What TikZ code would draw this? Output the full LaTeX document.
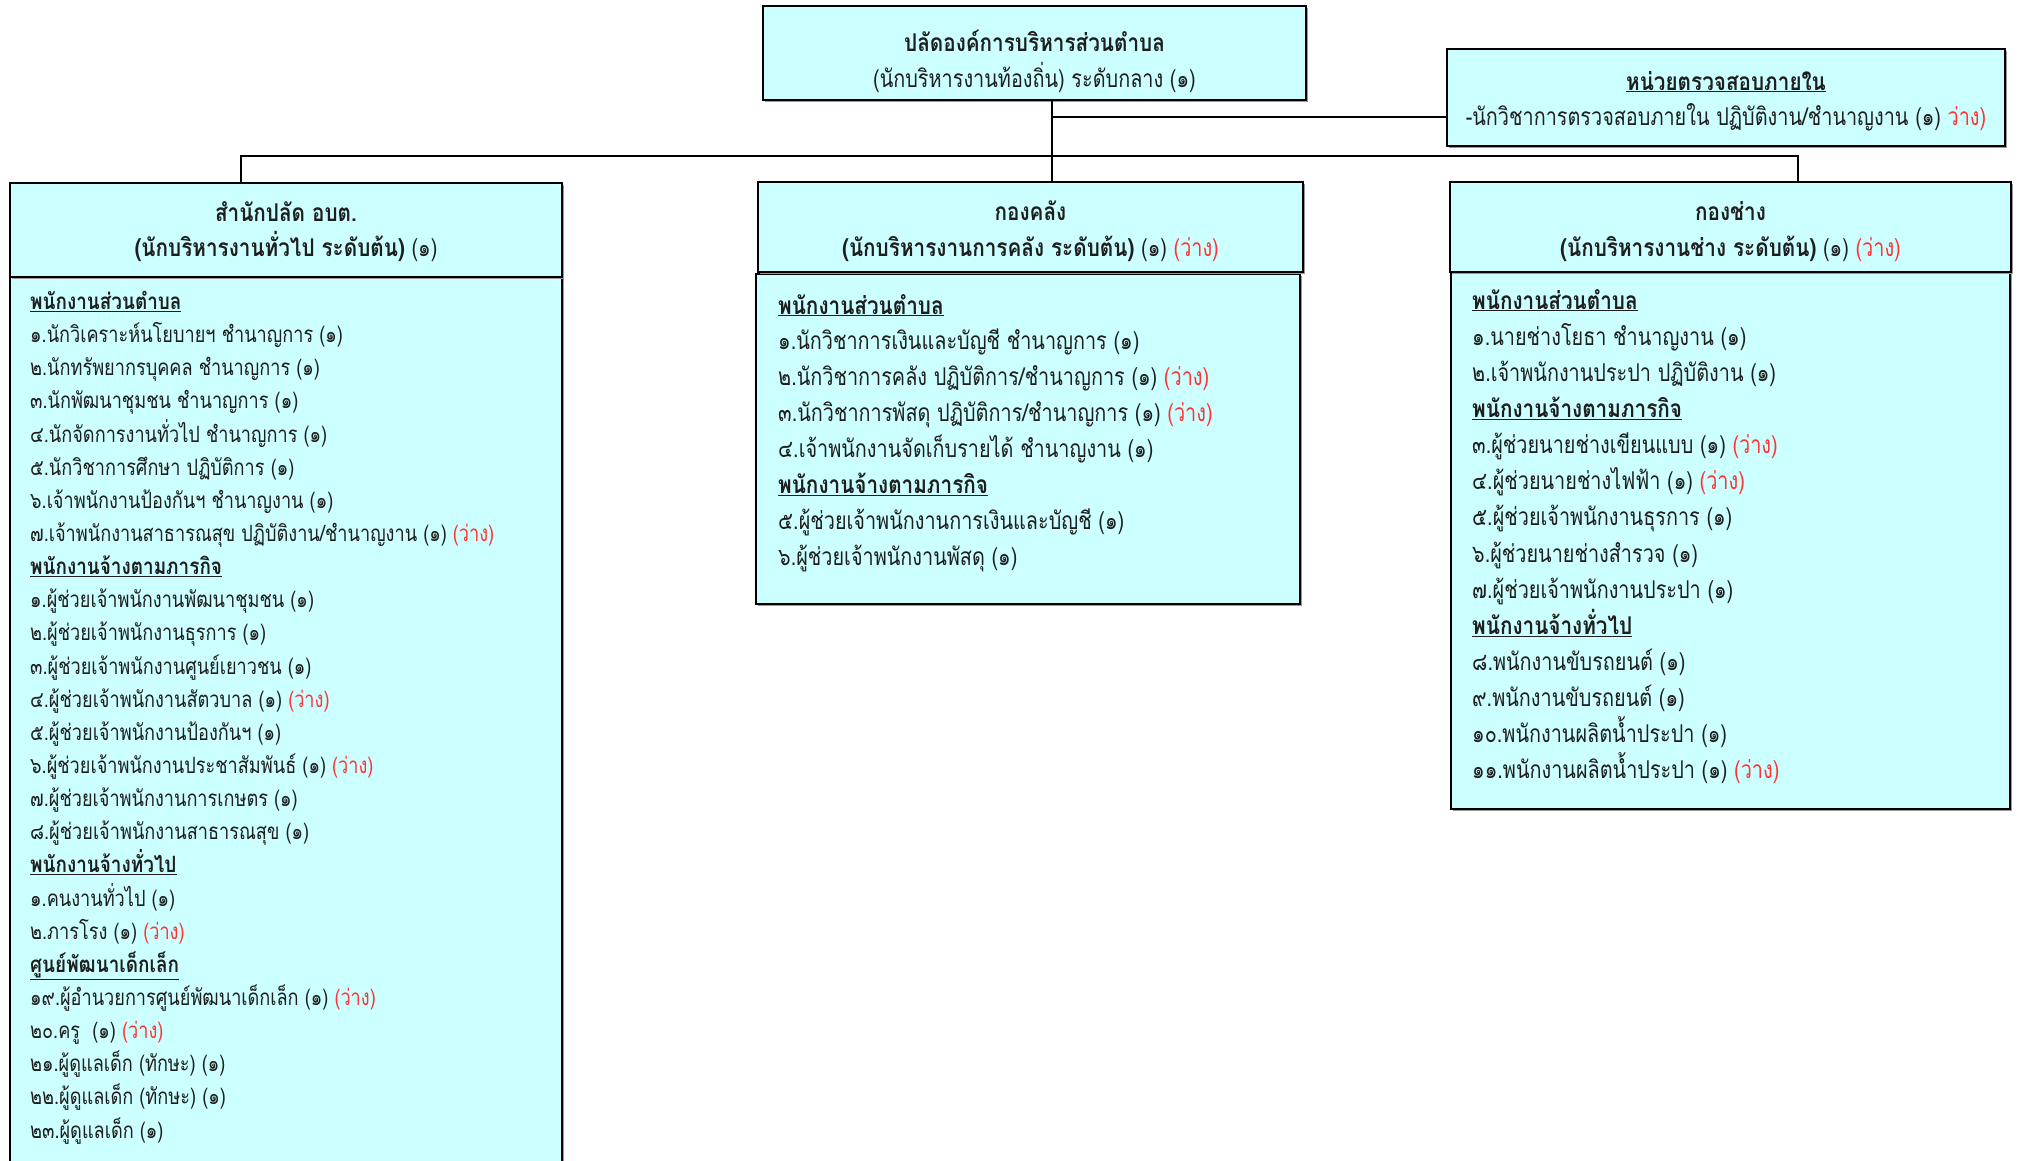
\documentclass[tikz,border=0pt]{standalone}
\usepackage{fontspec}
\newfontfamily\thaifont[Script=Thai, FakeStretch=0.81, BoldFeatures={FakeStretch=0.845}]{Loma}
\usetikzlibrary{shadows}
\definecolor{boxfill}{HTML}{CCFFFF}
\definecolor{txt}{HTML}{1E1E1E}
\definecolor{redt}{HTML}{FF3333}
\newcommand{\vac}{\textcolor{redt}{(ว่าง)}}
\newcommand{\hd}[1]{\textbf{\underline{#1}}}
\begin{document}
\begin{tikzpicture}[x=1pt,y=-1pt,
  font=\thaifont\fontsize{24.5}{28}\selectfont,
  box/.style={draw=black, line width=2.4pt, fill=boxfill, inner sep=0pt,
    drop shadow={shadow xshift=2pt, shadow yshift=-2pt, fill=black!40, opacity=1}},
  conn/.style={line width=2.2pt, black},
  item/.style={anchor=base west, inner sep=0pt, text=txt},
  smallitem/.style={item, font=\thaifont\fontsize{22.4}{26}\selectfont},
  ttl/.style={anchor=base, inner sep=0pt, text=txt}]
\useasboundingbox (0,0) rectangle (2018,1160);
\clip (0,0) rectangle (2018,1160);
% boxes
\node[box, minimum width=543, minimum height=94] (top) at (1034.5,53) {};
\node[box, minimum width=558, minimum height=97] (audit) at (1726,97.5) {};
\node[box, minimum width=552, minimum height=903] (leftB) at (286,728.5) {};
\node[box, minimum width=552, minimum height=94] (leftT) at (286,230) {};
\node[box, minimum width=544, minimum height=330] (midB) at (1028,439) {};
\node[box, minimum width=545, minimum height=90] (midT) at (1030.5,227) {};
\node[box, minimum width=559, minimum height=537] (rightB) at (1730.5,540.5) {};
\node[box, minimum width=561, minimum height=90] (rightT) at (1730.5,227) {};
% connectors
\coordinate (j) at (1052,117);
\coordinate (busL) at (241,156);
\coordinate (busR) at (1798,156);
\draw[conn] (top.south -| j) -- (j |- midT.north);
\draw[conn] (j) -- (j -| audit.west);
\draw[conn] (busL |- leftT.north) -- (busL) -- (busR) -- (busR |- rightT.north);
% titles
\node[ttl] (topA) at (1034.5,51) {\textbf{ปลัดองค์การบริหารส่วนตำบล}};
\node[ttl] (topB) at (1034.5,87) {(นักบริหารงานท้องถิ่น) ระดับกลาง (๑)};
\node[ttl] (audA) at (1726,90) {\hd{หน่วยตรวจสอบภายใน}};
\node[ttl] (audB) at (1726,125) {-นักวิชาการตรวจสอบภายใน ปฏิบัติงาน/ชำนาญงาน (๑) \textcolor{redt}{ว่าง)}};
\node[ttl] (lA) at (286,221) {\textbf{สำนักปลัด อบต.}};
\node[ttl] (lB) at (286,256) {\textbf{(นักบริหารงานทั่วไป ระดับต้น)} (๑)};
\node[ttl] (mA) at (1030.5,220) {\textbf{กองคลัง}};
\node[ttl] (mB) at (1030.5,256) {\textbf{(นักบริหารงานการคลัง ระดับต้น)} (๑) \vac};
\node[ttl] (rA) at (1730.5,220) {\textbf{กองช่าง}};
\node[ttl] (rB) at (1730.5,256) {\textbf{(นักบริหารงานช่าง ระดับต้น)} (๑) \vac};
% left list
\foreach \t [count=\i from 0] in {
 {\hd{พนักงานส่วนตำบล}},
 {๑.นักวิเคราะห์นโยบายฯ ชำนาญการ (๑)},
 {๒.นักทรัพยากรบุคคล ชำนาญการ (๑)},
 {๓.นักพัฒนาชุมชน ชำนาญการ (๑)},
 {๔.นักจัดการงานทั่วไป ชำนาญการ (๑)},
 {๕.นักวิชาการศึกษา ปฏิบัติการ (๑)},
 {๖.เจ้าพนักงานป้องกันฯ ชำนาญงาน (๑)},
 {๗.เจ้าพนักงานสาธารณสุข ปฏิบัติงาน/ชำนาญงาน (๑) \vac},
 {\hd{พนักงานจ้างตามภารกิจ}},
 {๑.ผู้ช่วยเจ้าพนักงานพัฒนาชุมชน (๑)},
 {๒.ผู้ช่วยเจ้าพนักงานธุรการ (๑)},
 {๓.ผู้ช่วยเจ้าพนักงานศูนย์เยาวชน (๑)},
 {๔.ผู้ช่วยเจ้าพนักงานสัตวบาล (๑) \vac},
 {๕.ผู้ช่วยเจ้าพนักงานป้องกันฯ (๑)},
 {๖.ผู้ช่วยเจ้าพนักงานประชาสัมพันธ์ (๑) \vac},
 {๗.ผู้ช่วยเจ้าพนักงานการเกษตร (๑)},
 {๘.ผู้ช่วยเจ้าพนักงานสาธารณสุข (๑)},
 {\hd{พนักงานจ้างทั่วไป}},
 {๑.คนงานทั่วไป (๑)},
 {๒.ภารโรง (๑) \vac},
 {\hd{ศูนย์พัฒนาเด็กเล็ก}},
 {๑๙.ผู้อำนวยการศูนย์พัฒนาเด็กเล็ก (๑) \vac},
 {๒๐.ครู\ \ (๑) \vac},
 {๒๑.ผู้ดูแลเด็ก (ทักษะ) (๑)},
 {๒๒.ผู้ดูแลเด็ก (ทักษะ) (๑)},
 {๒๓.ผู้ดูแลเด็ก (๑)}}
 \node[smallitem] (L\i) at (30,{309.5+\i*33.14}) {\t};
% middle list
\foreach \t [count=\i from 0] in {
 {\hd{พนักงานส่วนตำบล}},
 {๑.นักวิชาการเงินและบัญชี ชำนาญการ (๑)},
 {๒.นักวิชาการคลัง ปฏิบัติการ/ชำนาญการ (๑) \vac},
 {๓.นักวิชาการพัสดุ ปฏิบัติการ/ชำนาญการ (๑) \vac},
 {๔.เจ้าพนักงานจัดเก็บรายได้ ชำนาญงาน (๑)},
 {\hd{พนักงานจ้างตามภารกิจ}},
 {๕.ผู้ช่วยเจ้าพนักงานการเงินและบัญชี (๑)},
 {๖.ผู้ช่วยเจ้าพนักงานพัสดุ (๑)}}
 \node[item] (M\i) at (778,{314+\i*35.9}) {\t};
% right list
\foreach \t [count=\i from 0] in {
 {\hd{พนักงานส่วนตำบล}},
 {๑.นายช่างโยธา ชำนาญงาน (๑)},
 {๒.เจ้าพนักงานประปา ปฏิบัติงาน (๑)},
 {\hd{พนักงานจ้างตามภารกิจ}},
 {๓.ผู้ช่วยนายช่างเขียนแบบ (๑) \vac},
 {๔.ผู้ช่วยนายช่างไฟฟ้า (๑) \vac},
 {๕.ผู้ช่วยเจ้าพนักงานธุรการ (๑)},
 {๖.ผู้ช่วยนายช่างสำรวจ (๑)},
 {๗.ผู้ช่วยเจ้าพนักงานประปา (๑)},
 {\hd{พนักงานจ้างทั่วไป}},
 {๘.พนักงานขับรถยนต์ (๑)},
 {๙.พนักงานขับรถยนต์ (๑)},
 {๑๐.พนักงานผลิตน้ำประปา (๑)},
 {๑๑.พนักงานผลิตน้ำประปา (๑) \vac}}
 \node[item] (R\i) at (1472,{309+\i*36.15}) {\t};
\end{tikzpicture}
\end{document}
